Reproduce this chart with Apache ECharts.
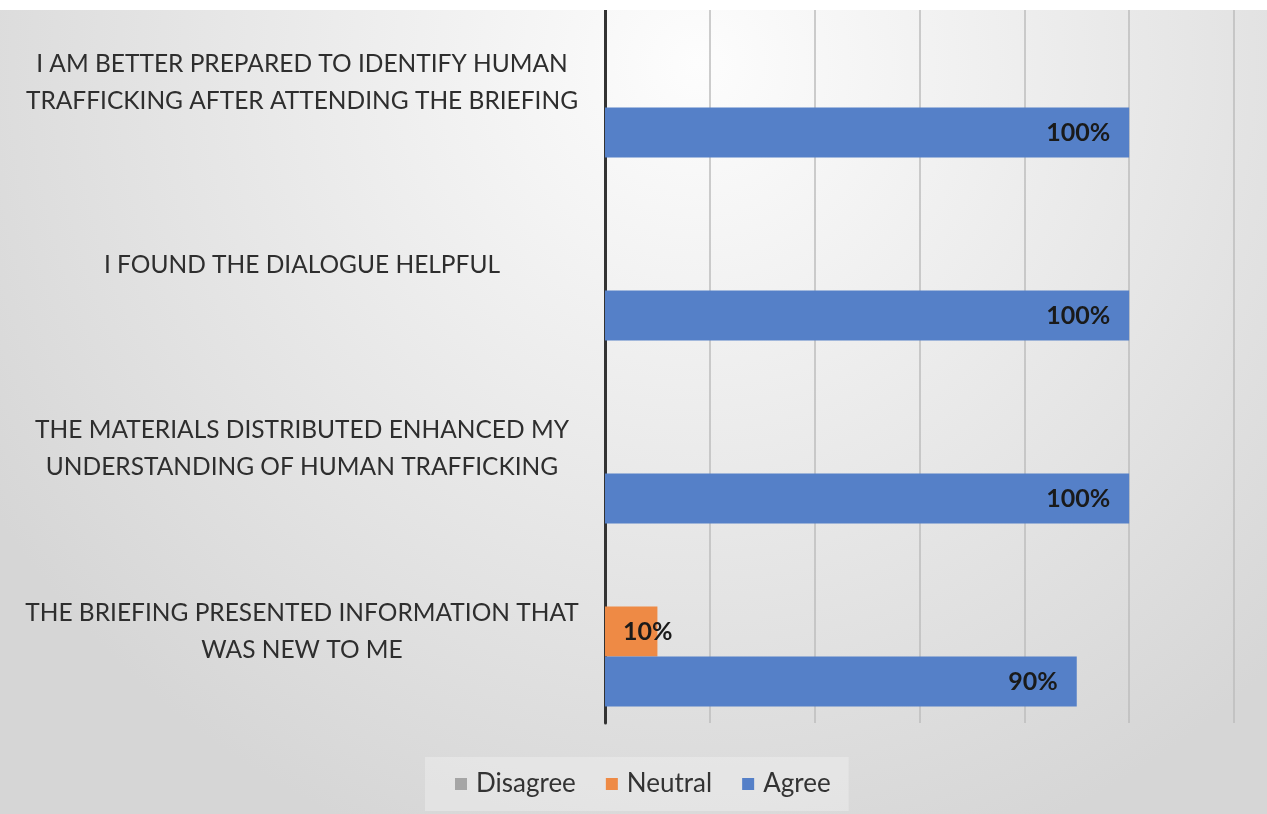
<!DOCTYPE html>
<html>
<head>
<meta charset="utf-8">
<script src="https://cdn.jsdelivr.net/npm/echarts@6/dist/echarts.min.js"></script>
<style>
html,body{margin:0;padding:0;background:#fff;overflow:hidden;}
#c{position:absolute;left:0;top:-20px;width:1267px;height:834px;}
</style>
</head>
<body>
<div id="c"></div>
<script>
// Categories listed top to bottom
const categories = [
  "I AM BETTER PREPARED TO IDENTIFY HUMAN\nTRAFFICKING AFTER ATTENDING THE BRIEFING",
  "I FOUND THE DIALOGUE HELPFUL",
  "THE MATERIALS DISTRIBUTED ENHANCED MY\nUNDERSTANDING OF HUMAN TRAFFICKING",
  "THE BRIEFING PRESENTED INFORMATION THAT\nWAS NEW TO ME"
];
const seriesNames = ["Disagree", "Neutral", "Agree"];
const disagree = [0, 0, 0, 0];
const neutral = [0, 0, 0, 10];
const agree = [100, 100, 100, 90];
const xTicks = [0, 20, 40, 60, 80, 100, 120];

const colors = ["#a5a5a5", "#ee8a45", "#5580c8"];
const FONT = "Lato";
const SHIFT = 20; // chart div is shifted up by this many pixels

const chart = echarts.init(document.getElementById('c'));
const labelStyle = (pos, dist) => ({
  show: true,
  position: pos,
  distance: dist,
  formatter: p => p.value ? p.value + '%' : '',
  fontFamily: FONT,
  fontWeight: 'bold',
  fontSize: 25,
  color: '#1a1a1a'
});

chart.setOption({
  backgroundColor: {
    type: 'radial', x: 0.55, y: 0.1, r: 1.0,
    colorStops: [
      { offset: 0, color: '#fdfdfd' },
      { offset: 1, color: '#d6d6d6' }
    ]
  },
  color: colors,
  graphic: [{
    type: 'rect', z: 100,
    shape: { x: 0, y: 0, width: 1267, height: SHIFT + 10 },
    style: { fill: '#ffffff' }
  }],
  legend: {
    data: seriesNames,
    left: 425,
    top: 757 + SHIFT,
    padding: [13, 18, 13, 30],
    backgroundColor: 'rgba(255,255,255,0.28)',
    itemWidth: 12,
    itemHeight: 12,
    itemGap: 30,
    icon: 'rect',
    textStyle: { fontFamily: FONT, fontSize: 26, color: '#333333', lineHeight: 28, padding: [0, 0, 0, 4] }
  },
  grid: { left: 605, right: 33, top: SHIFT - 9, bottom: 91, containLabel: false },
  xAxis: {
    type: 'value',
    min: xTicks[0],
    max: xTicks[xTicks.length - 1],
    interval: xTicks[1] - xTicks[0],
    axisLabel: { show: false },
    axisLine: { show: false },
    axisTick: { show: false },
    splitLine: { show: true, lineStyle: { color: '#bdbdbd', width: 1.5 } }
  },
  yAxis: {
    type: 'category',
    inverse: true,
    data: categories,
    axisTick: { show: false },
    axisLine: { show: true, lineStyle: { color: '#333333', width: 3 } },
    axisLabel: {
      interval: 0,
      margin: 303,
      align: 'center',
      fontFamily: FONT,
      fontSize: 24.5,
      lineHeight: 37,
      color: '#2e2e2e'
    }
  },
  series: [
    { name: seriesNames[0], type: 'bar', data: disagree, barWidth: 50, barGap: '0%', label: labelStyle('insideLeft', 18) },
    { name: seriesNames[1], type: 'bar', data: neutral, barWidth: 50, barGap: '0%', label: labelStyle('insideLeft', 18) },
    { name: seriesNames[2], type: 'bar', data: agree, barWidth: 50, barGap: '0%', label: labelStyle('insideRight', 19) }
  ]
});
</script>
</body>
</html>
